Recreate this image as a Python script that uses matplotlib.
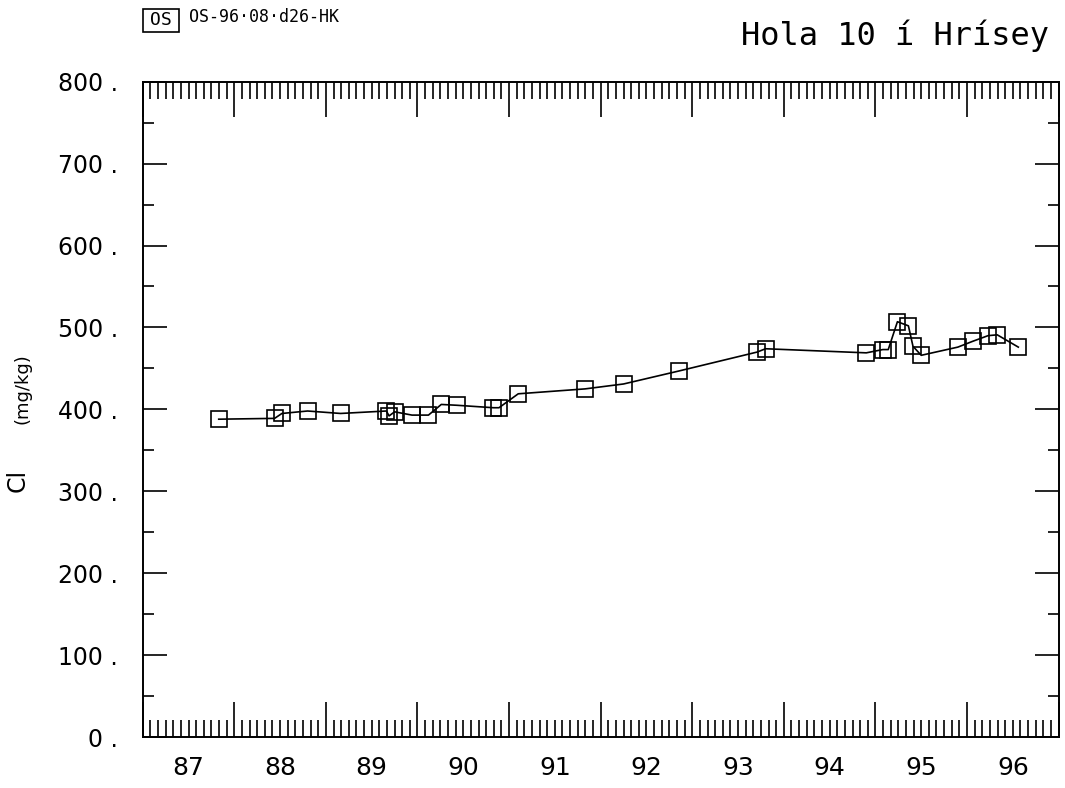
#!/usr/bin/env python3
"""Cl (mg/kg) time series for Hola 10 i Hrisey, redrawn as a plotter-style chart."""
import matplotlib
matplotlib.use("Agg")
import matplotlib.pyplot as plt          # noqa: E402
from matplotlib.patches import Rectangle  # noqa: E402
from matplotlib.ticker import MultipleLocator  # noqa: E402

# sample dates (decimal year, 87 = 1987) and chloride values
year = [87.83, 88.44, 88.52, 88.80, 89.16, 89.66, 89.69, 89.75, 89.94,
        90.12, 90.26, 90.43, 90.83, 90.89, 91.10, 91.83, 92.25, 92.86,
        93.71, 93.80, 94.90, 95.08, 95.14, 95.24, 95.36, 95.41, 95.50,
        95.90, 96.06, 96.23, 96.33, 96.56]
cl = [388, 389, 395, 398, 395, 398, 392, 397, 393,
      393, 406, 405, 402, 402, 419, 425, 431, 447,
      470, 474, 469, 473, 473, 507, 502, 477, 466,
      476, 483, 490, 491, 476]

year_labels = ["87", "88", "89", "90", "91", "92", "93", "94", "95", "96"]
y_ticks = [0, 100, 200, 300, 400, 500, 600, 700, 800]
title = "Hola 10 í Hrísey"
stamp = "OS-96·08·d26-HK"

FONT = "DejaVu Sans"
MONO = "DejaVu Sans Mono"

fig = plt.figure(figsize=(10.65, 7.88), dpi=100)
ax = fig.add_axes([0.134, 0.0647, 0.860, 0.8316])

ax.plot(year, cl, color="black", lw=1.2, marker="s", ms=12,
        mfc="none", mec="black", mew=1.2, zorder=3)

ax.set_xlim(87, 97)
ax.set_ylim(0, 800)

for s in ax.spines.values():
    s.set_linewidth(1.4)

# x: year boundaries long, months short, on top and bottom, no labels
ax.xaxis.set_major_locator(MultipleLocator(1))
ax.xaxis.set_minor_locator(MultipleLocator(1 / 12))
ax.tick_params(axis="x", which="major", direction="in", length=25, width=1.2,
               top=True, bottom=True, labelbottom=False)
ax.tick_params(axis="x", which="minor", direction="in", length=12, width=1.2,
               top=True, bottom=True)

# y: every 100 long, every 50 short, labels left
ax.set_yticks(y_ticks)
ax.set_yticklabels([f"{v} ." for v in y_ticks], fontsize=17, family=FONT)
ax.yaxis.set_minor_locator(MultipleLocator(50))
ax.tick_params(axis="y", which="major", direction="in", length=17, width=1.2,
               left=True, right=True, pad=18)
ax.tick_params(axis="y", which="minor", direction="in", length=8, width=1.2,
               left=True, right=True)

# year labels centred in each year
sec = ax.secondary_xaxis("bottom")
sec.set_xticks([87.5 + i for i in range(len(year_labels))])
sec.set_xticklabels(year_labels, fontsize=18, family=FONT)
sec.tick_params(length=0, pad=14)
sec.spines["bottom"].set_visible(False)

# y axis title
fig.text(0.017, 0.390, "Cl", rotation=90, fontsize=17, family=FONT,
         ha="center", va="center")
fig.text(0.021, 0.507, "(mg/kg)", rotation=90, fontsize=13, family=FONT,
         ha="center", va="center")

# title, top right
fig.text(0.985, 0.955, title, fontsize=23, family=MONO,
         ha="right", va="center")

# OS stamp, top left
fig.patches.append(Rectangle((0.1345, 0.960), 0.034, 0.029, fill=False,
                             lw=1.2, ec="black", transform=fig.transFigure))
fig.text(0.1515, 0.9745, "OS", fontsize=13, family=MONO,
         ha="center", va="center")
fig.text(0.177, 0.979, stamp, fontsize=12, family=MONO,
         ha="left", va="center")

fig.savefig("out.png", dpi=100)
